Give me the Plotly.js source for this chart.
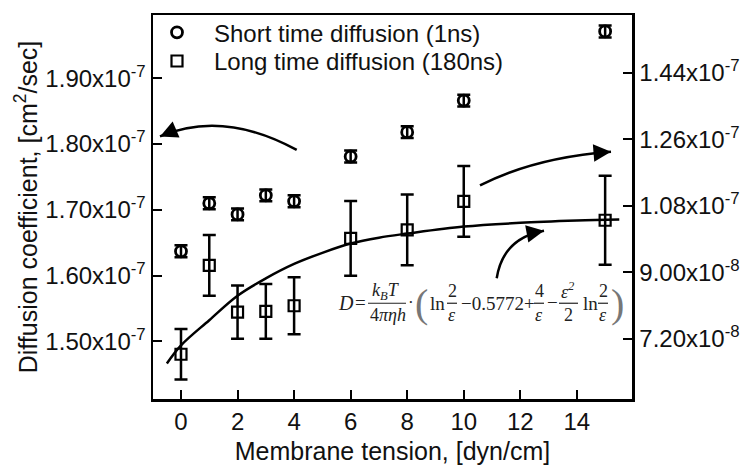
<!DOCTYPE html>
<html>
<head>
<meta charset="utf-8">
<script src="https://cdn.plot.ly/plotly-3.0.1.min.js"></script>
<style>html,body{margin:0;padding:0;background:#fff;}#chart{width:750px;height:473px;}</style>
</head>
<body>
<div id="chart"></div>
<script>
// ---- data ----
const tension = [0, 1, 2, 3, 4, 6, 8, 10, 15];
const shortD = [1.637e-7, 1.710e-7, 1.693e-7, 1.722e-7, 1.713e-7, 1.781e-7, 1.818e-7, 1.866e-7, 1.971e-7];
const shortErr = [0.009e-7, 0.009e-7, 0.009e-7, 0.009e-7, 0.009e-7, 0.009e-7, 0.009e-7, 0.009e-7, 0.009e-7];
const longD = [0.679e-7, 0.919e-7, 0.793e-7, 0.795e-7, 0.810e-7, 0.992e-7, 1.015e-7, 1.092e-7, 1.041e-7];
const longErr = [0.068e-7, 0.082e-7, 0.072e-7, 0.074e-7, 0.077e-7, 0.101e-7, 0.0955e-7, 0.0955e-7, 0.120e-7];
const fitX = [-0.5, 0, 1, 2, 3, 4, 5, 6, 7, 8, 10, 12, 14, 15.5];
const fitY = [0.654e-7, 0.703e-7, 0.771e-7, 0.837e-7, 0.884e-7, 0.923e-7, 0.953e-7, 0.978e-7, 0.994e-7, 1.005e-7, 1.024e-7, 1.034e-7, 1.040e-7, 1.043e-7];
const xTicks = [0, 2, 4, 6, 8, 10, 12, 14];
const leftTickVals = [1.5e-7, 1.6e-7, 1.7e-7, 1.8e-7, 1.9e-7];
const leftTickText = ['1.50x10<sup>-7</sup>', '1.60x10<sup>-7</sup>', '1.70x10<sup>-7</sup>', '1.80x10<sup>-7</sup>', '1.90x10<sup>-7</sup>'];
const rightTickVals = [0.72e-7, 0.90e-7, 1.08e-7, 1.26e-7, 1.44e-7];
const rightTickText = ['7.20x10<sup>-8</sup>', '9.00x10<sup>-8</sup>', '1.08x10<sup>-7</sup>', '1.26x10<sup>-7</sup>', '1.44x10<sup>-7</sup>'];
const seriesNames = ['Short time diffusion (1ns)', 'Long time diffusion (180ns)'];

// ---- layout geometry (pixels) ----
const L = 153, R = 632, T = 10, B = 399;
const W = 750, H = 473;
const px = X => (X - L) / (R - L);
const py = Y => (B - Y) / (B - T);
const FONT = 'Liberation Sans, Arial, sans-serif';
const SERIF = 'Liberation Serif, Times New Roman, serif';

const traces = [
  {
    x: tension, y: shortD, name: seriesNames[0], type: 'scatter', mode: 'markers',
    marker: {symbol: 'circle-open', size: 11, color: '#000', line: {width: 2.8, color: '#000'}},
    error_y: {type: 'data', array: shortErr, visible: true, color: '#000', thickness: 2.5, width: 6.5},
    yaxis: 'y', legend: 'legend'
  },
  {
    x: tension, y: longD, name: seriesNames[1], type: 'scatter', mode: 'markers',
    marker: {symbol: 'square-open', size: 11, color: '#000', line: {width: 2.2, color: '#000'}},
    error_y: {type: 'data', array: longErr, visible: true, color: '#000', thickness: 2.5, width: 6.5},
    yaxis: 'y2', legend: 'legend2'
  },
  {
    x: fitX, y: fitY, type: 'scatter', mode: 'lines', showlegend: false, hoverinfo: 'skip',
    line: {color: '#000', width: 2.5, shape: 'spline', smoothing: 1},
    yaxis: 'y2'
  }
];

// curved arrows: path + arrowhead annotation
function curveArrow(p0, c, tip, headLen) {
  const dx = c[0] - tip[0], dy = c[1] - tip[1];
  const n = Math.hypot(dx, dy);
  return {
    shape: {type: 'path', xref: 'paper', yref: 'paper',
      path: `M ${px(p0[0])},${py(p0[1])} Q ${px(c[0])},${py(c[1])} ${px(tip[0])},${py(tip[1])}`,
      line: {color: '#000', width: 2.5}},
    ann: {xref: 'paper', yref: 'paper', x: px(tip[0]), y: py(tip[1]), ax: dx / n * headLen, ay: dy / n * headLen,
      text: '', showarrow: true, arrowhead: 2, arrowsize: 1.4, arrowwidth: 2.5, arrowcolor: '#000'}
  };
}
const arrows = [
  curveArrow([296.7, 146.7], [223, 106], [160, 133], 14),
  curveArrow([480, 182.7], [534, 154.5], [611, 148.5], 14),
  curveArrow([496.7, 276.7], [503, 236], [544, 228.5], 14)
];

// formula pieces
const fc = '#222';
function txt(X, Y, t, size, italic, extra) {
  return Object.assign({xref: 'paper', yref: 'paper', x: px(X), y: py(Y), xanchor: 'center', yanchor: 'middle',
    text: t, showarrow: false, font: {family: SERIF, size: size, color: fc, style: italic ? 'italic' : 'normal'}}, extra || {});
}
function bar(x0, x1, Y) {
  return {type: 'line', xref: 'paper', yref: 'paper', x0: px(x0), x1: px(x1), y0: py(Y), y1: py(Y), line: {color: fc, width: 1.2}};
}
const FR = 18, MN = 19;
const formulaAnns = [
  txt(346, 302, 'D', 20, true),
  txt(360, 301, '=', 19, false),
  txt(386, 290, 'k<sub>B</sub>T', FR, true),
  txt(388, 314, '4<i>πηh</i>', FR, false),
  txt(411, 301, '·', 17, false),
  txt(421, 302, '(', 40, false, {font: {family: SERIF, size: 40, color: '#777'}}),
  txt(437.5, 302, 'ln', MN, false),
  txt(452, 290, '2', FR, false),
  txt(452, 314, 'ε', FR, true),
  txt(498, 302, '−0.5772+', MN, false),
  txt(539, 290, '4', FR, false),
  txt(539, 314, 'ε', FR, true),
  txt(552, 301, '−', MN, false),
  txt(568, 289, 'ε<sup>2</sup>', FR, true),
  txt(568, 314, '2', FR, false),
  txt(590, 302, 'ln', MN, false),
  txt(603, 290, '2', FR, false),
  txt(603, 314, 'ε', FR, true),
  txt(617, 302, ')', 40, false, {font: {family: SERIF, size: 40, color: '#777'}})
];
const formulaBars = [bar(368, 406, 302), bar(447, 457, 302), bar(534, 544, 302), bar(559, 578, 302), bar(598, 608, 302)];

const legendCommon = {xanchor: 'left', yanchor: 'middle', bgcolor: 'rgba(0,0,0,0)', borderwidth: 0,
  font: {family: FONT, size: 24, color: '#111'}, itemwidth: 64, tracegroupgap: 0};

const layout = {
  width: W, height: H,
  margin: {l: L, r: W - R, t: T, b: H - B, pad: 0},
  paper_bgcolor: '#fff', plot_bgcolor: '#fff',
  font: {family: FONT, size: 24, color: '#111'},
  showlegend: true,
  legend: Object.assign({x: px(140), y: py(28)}, legendCommon),
  legend2: Object.assign({x: px(140), y: py(57)}, legendCommon),
  xaxis: {
    range: [-0.99, 15.95], tickvals: xTicks, ticktext: xTicks.map(String),
    ticks: 'inside', ticklen: 9, tickwidth: 2, tickcolor: '#000',
    showline: true, linewidth: 2.5, linecolor: '#000', mirror: true,
    showgrid: false, zeroline: false,
    tickfont: {family: FONT, size: 24, color: '#111'},
    title: {text: 'Membrane tension, [dyn/cm]', font: {family: FONT, size: 25, color: '#111'}, standoff: 8}
  },
  yaxis: {
    range: [1.4126e-7, 1.996e-7], tickvals: leftTickVals, ticktext: leftTickText,
    ticks: 'inside', ticklen: 9, tickwidth: 2, tickcolor: '#000',
    showline: true, linewidth: 2.5, linecolor: '#000', mirror: false,
    showgrid: false, zeroline: false,
    tickfont: {family: FONT, size: 24, color: '#111'},
    title: {text: 'Diffusion coefficient, [cm<sup>2</sup>/sec]', font: {family: FONT, size: 25, color: '#111'}, standoff: 1}
  },
  yaxis2: {
    overlaying: 'y', side: 'right',
    range: [0.5581e-7, 1.5955e-7], tickvals: rightTickVals, ticktext: rightTickText,
    ticks: 'inside', ticklen: 9, tickwidth: 2, tickcolor: '#000',
    showline: true, linewidth: 2.5, linecolor: '#000',
    showgrid: false, zeroline: false,
    tickfont: {family: FONT, size: 24, color: '#111'}
  },
  shapes: arrows.map(a => a.shape).concat(formulaBars),
  annotations: arrows.map(a => a.ann).concat(formulaAnns)
};

Plotly.newPlot('chart', traces, layout, {displayModeBar: false, staticPlot: true});
</script>
</body>
</html>
